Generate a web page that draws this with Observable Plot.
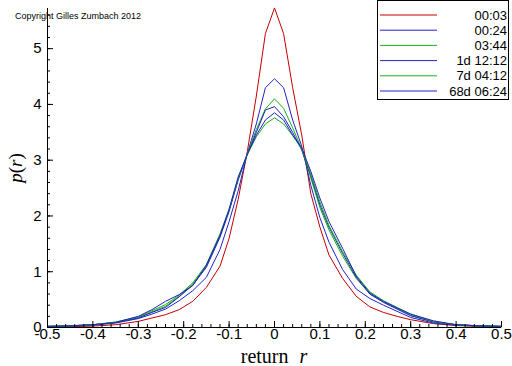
<!DOCTYPE html>
<html>
<head>
<meta charset="utf-8">
<script src="https://cdn.jsdelivr.net/npm/d3@7"></script>
<script src="https://cdn.jsdelivr.net/npm/@observablehq/plot@0.6"></script>
<style>
  html, body { margin: 0; padding: 0; background: #fff; }
  #chart svg { display: block; }
</style>
</head>
<body>
<div id="chart"></div>
<script>
const seriesNames = ["00:03", "00:24", "03:44", "1d 12:12", "7d 04:12", "68d 06:24"];
const seriesColors = ["#c40000", "#2222c4", "#18b018", "#2222c4", "#18b018", "#2222c4"];

const R = [-0.5,-0.45,-0.4,-0.35,-0.3,-0.27,-0.24,-0.21,-0.18,-0.15,-0.12,-0.1,-0.08,-0.06,-0.04,-0.02,0,0.02,0.04,0.06,0.08,0.1,0.12,0.15,0.18,0.21,0.24,0.27,0.3,0.35,0.4,0.45,0.5];

const p0003 = [0.01,0.015,0.025,0.05,0.11,0.17,0.23,0.32,0.47,0.72,1.1,1.6,2.3,3.15,4.15,5.27,5.73,5.27,4.3,3.45,2.4,1.8,1.3,0.88,0.56,0.37,0.27,0.2,0.14,0.07,0.035,0.02,0.01];
const p0024 = [0.02,0.025,0.04,0.08,0.16,0.24,0.33,0.48,0.66,0.9,1.4,1.9,2.45,3.12,3.65,4.3,4.46,4.3,3.72,3.25,2.55,1.97,1.53,1.04,0.69,0.52,0.4,0.29,0.18,0.08,0.04,0.025,0.02];
const p0344 = [0.02,0.03,0.05,0.09,0.18,0.28,0.38,0.56,0.78,1.1,1.65,2.1,2.65,3.12,3.55,3.92,4.1,3.93,3.58,3.2,2.68,2.15,1.75,1.28,0.88,0.6,0.46,0.34,0.22,0.1,0.05,0.03,0.02];
const p1d = [0.02,0.03,0.05,0.09,0.17,0.27,0.36,0.55,0.76,1.08,1.62,2.08,2.65,3.1,3.5,3.9,3.96,3.78,3.5,3.18,2.72,2.2,1.8,1.33,0.9,0.6,0.45,0.33,0.21,0.1,0.05,0.03,0.02];
const p7d = [0.02,0.03,0.05,0.1,0.19,0.3,0.41,0.58,0.8,1.13,1.68,2.12,2.68,3.1,3.42,3.65,3.76,3.65,3.44,3.2,2.75,2.25,1.83,1.36,0.94,0.64,0.48,0.36,0.24,0.11,0.05,0.03,0.02];
const p68d = [0.02,0.03,0.05,0.09,0.2,0.32,0.47,0.59,0.75,1.12,1.65,2.12,2.7,3.1,3.45,3.72,3.85,3.72,3.45,3.22,2.8,2.32,1.9,1.42,0.92,0.62,0.47,0.35,0.24,0.12,0.05,0.03,0.02];

const xTicks = [-0.5,-0.4,-0.3,-0.2,-0.1,0,0.1,0.2,0.3,0.4,0.5];
const xTickLabels = ["-0.5","-0.4","-0.3","-0.2","-0.1","0","0.1","0.2","0.3","0.4","0.5"];
const xMinorTicks = d3.range(-50, 51, 2).map(k => k / 100);
const yTicks = [0,1,2,3,4,5];
const yTickLabels = ["0","1","2","3","4","5"];
const yMinorTicks = d3.range(0, 29, 1).map(k => k / 5);

const allSeries = [p0003, p0024, p0344, p1d, p7d, p68d];
const data = [];
allSeries.forEach((vals, i) => {
  vals.forEach((v, j) => data.push({series: seriesNames[i], r: R[j], p: v}));
});

const W = 512, H = 366, mL = 47, mR = 11, mT = 8, mB = 39;
const xDom = [-0.5, 0.5], yDom = [0, 5.72];
// pixel -> data unit conversions for inward tick lengths
const xPerPx = (xDom[1] - xDom[0]) / (W - mL - mR);
const yPerPx = (yDom[1] - yDom[0]) / (H - mT - mB);

const font = "'Liberation Sans', Arial, sans-serif";
const serif = "'Liberation Serif', 'Times New Roman', serif";

const plot = Plot.plot({
  width: W,
  height: H,
  marginLeft: mL,
  marginRight: mR,
  marginTop: mT,
  marginBottom: mB,
  style: {background: "#fff", fontFamily: font, overflow: "visible"},
  x: {domain: xDom},
  y: {domain: yDom},
  color: {domain: seriesNames, range: seriesColors},
  marks: [
    Plot.line(data, {x: "r", y: "p", z: "series", stroke: "series", strokeWidth: 1}),
    Plot.ruleY([0], {stroke: "#000"}),
    Plot.ruleX([-0.5], {stroke: "#000"}),
    // x ticks (inward)
    Plot.ruleX(xMinorTicks, {x: d => d, y1: 0, y2: 3 * yPerPx, stroke: "#000"}),
    Plot.ruleX(xTicks, {x: d => d, y1: 0, y2: 6 * yPerPx, stroke: "#000"}),
    // y ticks (inward)
    Plot.ruleY(yMinorTicks, {y: d => d, x1: -0.5, x2: -0.5 + 3 * xPerPx, stroke: "#000"}),
    Plot.ruleY(yTicks, {y: d => d, x1: -0.5, x2: -0.5 + 6 * xPerPx, stroke: "#000"}),
    Plot.axisX({ticks: xTicks, tickSize: 0, tickPadding: 1, fontSize: 15,
      tickFormat: d => xTickLabels[xTicks.findIndex(t => Math.abs(t - d) < 1e-9)], label: null}),
    Plot.axisY({ticks: yTicks, tickSize: 0, tickPadding: 6, fontSize: 15,
      tickFormat: d => yTickLabels[yTicks.indexOf(d)], label: null})
  ]
});

document.getElementById("chart").appendChild(plot);
const svg = d3.select(plot);

// x label
const xl = svg.append("text")
  .attr("x", 274).attr("y", 363)
  .attr("text-anchor", "middle")
  .style("font-family", serif).style("font-size", "20px").attr("fill", "#000");
xl.append("tspan").text("return ");
xl.append("tspan").attr("dx", 6).style("font-style", "italic").text("r");

// y label
const yl = svg.append("text")
  .attr("transform", "translate(22,168) rotate(-90)")
  .attr("text-anchor", "middle")
  .style("font-family", serif).style("font-size", "19px").attr("fill", "#000");
yl.append("tspan").style("font-style", "italic").text("p");
yl.append("tspan").text("(");
yl.append("tspan").style("font-style", "italic").text("r");
yl.append("tspan").text(")");

// copyright
svg.append("text").attr("x", 78).attr("y", 19)
  .style("font-family", font).style("font-size", "9px").attr("fill", "#000")
  .text("Copyright Gilles Zumbach 2012");

// legend
const lg = svg.append("g");
lg.append("rect").attr("x", 377.5).attr("y", 0.5).attr("width", 131).attr("height", 99)
  .attr("fill", "#fff").attr("stroke", "#000");
seriesNames.forEach((name, i) => {
  const yy = 15 + i * 15.2;
  lg.append("line").attr("x1", 380).attr("x2", 437).attr("y1", yy).attr("y2", yy)
    .attr("stroke", seriesColors[i]).attr("stroke-width", 1);
  lg.append("text").attr("x", 507).attr("y", yy).attr("dy", "0.35em")
    .attr("text-anchor", "end")
    .style("font-family", font).style("font-size", "13px").attr("fill", "#000")
    .text(name);
});
</script>
</body>
</html>
